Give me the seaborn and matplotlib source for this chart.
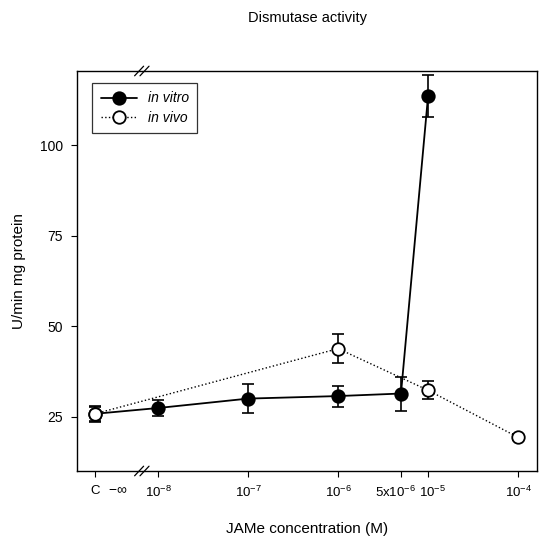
import numpy as np
import pandas as pd
import matplotlib
matplotlib.use("Agg")
import matplotlib.pyplot as plt
import matplotlib.transforms as mtransforms
import seaborn as sns

# ---- data ----
tick_labels = ["C", r"$10^{-8}$", r"$10^{-7}$", r"$10^{-6}$", r"$5\mathrm{x}10^{-6}$", r"$10^{-5}$", r"$10^{-4}$"]
tick_conc = ["C", 1e-8, 1e-7, 1e-6, 5e-6, 1e-5, 1e-4]

vitro_conc = ["C", 1e-8, 1e-7, 1e-6, 5e-6, 1e-5]
vitro_mean = [25.8, 27.4, 30.0, 30.7, 31.4, 113.6]
vitro_err = [2.0, 2.2, 4.0, 2.9, 4.7, 5.8]

vivo_conc = ["C", 1e-6, 1e-5, 1e-4]
vivo_mean = [25.8, 43.8, 32.3, 19.3]
vivo_err = [2.2, 4.0, 2.5, 0.8]

y_ticks = [25, 50, 75, 100]

CONTROL_POS = -8.7   # position of control on the log axis
BREAK_POS = -8.18


def pos(c):
    return CONTROL_POS if c == "C" else np.log10(c)


sns.set_style("ticks")
plt.rcParams["font.family"] = ["Liberation Sans", "DejaVu Sans"]
plt.rcParams["mathtext.fontset"] = "custom"
plt.rcParams["mathtext.rm"] = "Liberation Sans"
plt.rcParams["mathtext.it"] = "Liberation Sans:italic"
for k in ("text.color", "axes.labelcolor", "xtick.color", "ytick.color", "axes.edgecolor"):
    plt.rcParams[k] = "black"

df = pd.concat([
    pd.DataFrame({"x": [pos(c) for c in vitro_conc], "y": vitro_mean, "err": vitro_err, "series": "in vitro"}),
    pd.DataFrame({"x": [pos(c) for c in vivo_conc], "y": vivo_mean, "err": vivo_err, "series": "in vivo"}),
], ignore_index=True)

fig = plt.figure(figsize=(5.43, 5.49), dpi=100)
ax = fig.add_axes([77 / 543, 1 - 471 / 549, (537 - 77) / 543, (471 - 71) / 549])

styles = {
    "in vitro": dict(ls="-", lw=1.3, mfc="black", z=3),
    "in vivo": dict(ls=":", lw=1.0, mfc="white", z=4),
}
for name, st in styles.items():
    d = df[df.series == name]
    sns.lineplot(data=d, x="x", y="y", ax=ax, color="black", linestyle=st["ls"],
                 linewidth=st["lw"], marker="o", markersize=9, markerfacecolor=st["mfc"],
                 markeredgecolor="black", markeredgewidth=1.3, zorder=st["z"],
                 label=name, sort=False, errorbar=None)
    ax.errorbar(d.x, d.y, yerr=d.err, fmt="none", ecolor="black", elinewidth=1.2,
                capsize=4, capthick=1.2, zorder=st["z"] - 0.5)

ax.set_xlim(-8.9, -3.79)
ax.set_ylim(10, 120.5)
ax.set_xticks([pos(c) for c in tick_conc])
ax.set_xticklabels(tick_labels, fontsize=9.5)
ax.set_yticks(y_ticks)
ax.set_yticklabels([str(v) for v in y_ticks], fontsize=10)
ax.tick_params(direction="out", length=4, width=0.8, pad=6, colors="black")

# nudge the two crowded labels apart
xlabels = ax.get_xticklabels()
xlabels[4].set_transform(xlabels[4].get_transform() +
                         mtransforms.ScaledTranslation(-5 / 100, 0, fig.dpi_scale_trans))
xlabels[5].set_transform(xlabels[5].get_transform() +
                         mtransforms.ScaledTranslation(4 / 100, 0, fig.dpi_scale_trans))

for s in ax.spines.values():
    s.set_visible(True)
    s.set_linewidth(1.0)
    s.set_color("black")

ax.set_xlabel("JAMe concentration (M)", fontsize=11, labelpad=16)
ax.set_ylabel("U/min mg protein", fontsize=11, labelpad=10)
fig.text(307 / 543, 1 - 18 / 549, "Dismutase activity", ha="center", va="center", fontsize=10.5)

# axis break marks
for yb in (0, 1):
    for dx in (-0.03, 0.03):
        ax.plot([BREAK_POS + dx - 0.05, BREAK_POS + dx + 0.05], [yb - 0.012, yb + 0.012],
                transform=ax.get_xaxis_transform(), color="black", lw=0.9, clip_on=False)
ax.text(-8.45, -0.045, r"$-\infty$", transform=ax.get_xaxis_transform(), ha="center",
        va="center", fontsize=10)

leg = ax.legend(loc="upper left", bbox_to_anchor=(0.018, 0.987), frameon=True, fancybox=False,
                edgecolor="black", fontsize=10, handlelength=2.6, borderpad=0.6, labelspacing=0.4)
leg.get_frame().set_linewidth(0.9)
for t in leg.get_texts():
    t.set_fontstyle("italic")
    t.set_color("black")

fig.savefig("out.png", dpi=100)
